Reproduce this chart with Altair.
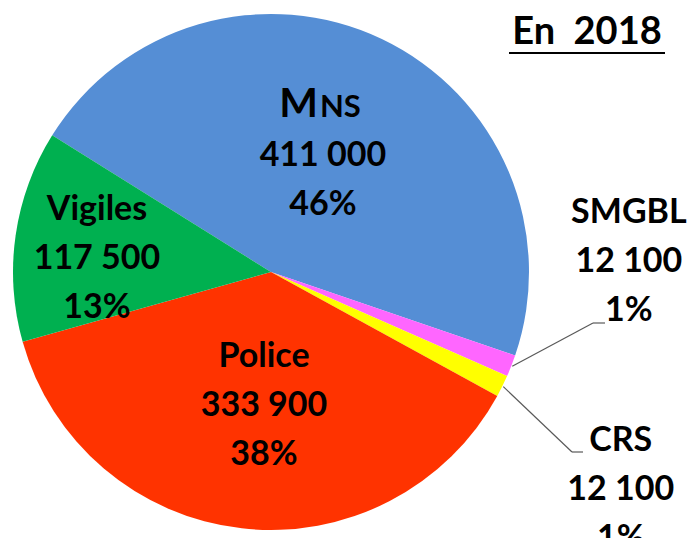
import math
import altair as alt
import pandas as pd

# ---- data ----
categories = ["MNS", "SMGBL", "CRS", "Police", "Vigiles"]
values = [411000, 12100, 12100, 333900, 117500]
value_labels = ["411 000", "12 100", "12 100", "333 900", "117 500"]
percent_labels = ["46%", "1%", "1%", "38%", "13%"]
colors = ["#558ED5", "#FF66FF", "#FFFF00", "#FF3300", "#00B050"]
title_text = "En \u00a02018"

# ---- layout ----
W, H = 679, 530
CX, CY = 263, 264
R = 258
START_DEG = 302.0
FONT = "Lato"
FS = 34
LH = 49
LABEL_POLAR = {  # (angle offset from slice middle in degrees, radius px)
    "MNS": (-1.3, 127),
    "SMGBL": (-22.9, 358),
    "CRS": (5.65, 412),
    "Police": (-3.5, 134),
    "Vigiles": (-3.9, 174.5),
}
LEADER_ELBOW = {"SMGBL": [(585, 315), (597, 315)], "CRS": [(564, 444), (575, 444)]}

total = sum(values)
start = math.radians(START_DEG)

df = pd.DataFrame({"cat": categories, "value": values, "order": list(range(len(categories)))})

pie = alt.Chart(df).mark_arc(outerRadius=R, strokeWidth=0).encode(
    theta=alt.Theta("value:Q", stack=True, scale=alt.Scale(range=[start, start + 2 * math.pi])),
    color=alt.Color("cat:N", scale=alt.Scale(domain=categories, range=colors), legend=None),
    order=alt.Order("order:Q"),
    x=alt.value(CX),
    y=alt.value(CY),
)

# label anchor positions derived from slice mid-angles
rows = []
mids = {}
cum = 0
for c, v, vl, pl in zip(categories, values, value_labels, percent_labels):
    mid = START_DEG + (cum + v / 2) / total * 360
    mids[c] = mid
    cum += v
    d, r = LABEL_POLAR[c]
    a = math.radians(mid + d)
    name = "" if c == "MNS" else c
    rows.append({"cat": c, "lx": CX + r * math.sin(a), "ly": CY - r * math.cos(a) - LH,
                 "label": f"{name}\n{vl}\n{pl}"})
lab = pd.DataFrame(rows)

labels = alt.Chart(lab).mark_text(
    font=FONT, fontWeight="bold", fontSize=FS, lineHeight=LH,
    align="center", baseline="middle", color="#000000", lineBreak="\n",
).encode(
    x=alt.X("lx:Q", scale=None), y=alt.Y("ly:Q", scale=None), text="label:N"
)

# "MNS" written with a tall M and small-cap NS, as in the original
mns = lab[lab["cat"] == "MNS"].iloc[0]
mns_df = pd.DataFrame({"t": ["M", "NS"], "x": [mns["lx"] - 5, mns["lx"] - 3],
                       "y": [mns["ly"] + 0.3 * FS, mns["ly"] + 0.3 * FS]})
mns_m = alt.Chart(mns_df[mns_df.t == "M"]).mark_text(
    font=FONT, fontWeight="bold", fontSize=41, align="right", baseline="alphabetic", color="#000000"
).encode(x=alt.X("x:Q", scale=None), y=alt.Y("y:Q", scale=None), text="t:N")
mns_ns = alt.Chart(mns_df[mns_df.t == "NS"]).mark_text(
    font=FONT, fontWeight="bold", fontSize=31, align="left", baseline="alphabetic", color="#000000"
).encode(x=alt.X("x:Q", scale=None), y=alt.Y("y:Q", scale=None), text="t:N")

seg = []
for c, pts in LEADER_ELBOW.items():
    a = math.radians(mids[c])
    p0 = (CX + (R + 1) * math.sin(a), CY - (R + 1) * math.cos(a))
    chain = [p0] + pts
    for (x1, y1), (x2, y2) in zip(chain[:-1], chain[1:]):
        seg.append({"x": x1, "y": y1, "x2": x2, "y2": y2})
segdf = pd.DataFrame(seg)

leaders = alt.Chart(segdf).mark_rule(color="#595959", strokeWidth=1.2).encode(
    x=alt.X("x:Q", scale=None), y=alt.Y("y:Q", scale=None),
    x2="x2:Q", y2="y2:Q",
)

title = alt.Chart(pd.DataFrame({"t": [title_text]})).mark_text(
    font=FONT, fontWeight="bold", fontSize=38, align="center", baseline="middle", color="#000000"
).encode(x=alt.value(579), y=alt.value(25), text="t:N")

underline = alt.Chart(pd.DataFrame({"t": [title_text]})).mark_rule(color="#000000", strokeWidth=2.2).encode(
    x=alt.value(501), x2=alt.value(657), y=alt.value(45)
)

chart = alt.layer(pie, leaders, labels, mns_m, mns_ns, title, underline).properties(
    width=W, height=H, padding=0, autosize=alt.AutoSizeParams(type="none"),
    background="#ffffff",
).configure_view(stroke=None)

chart.save("out.html", embed_options={"renderer": "svg", "actions": False})
